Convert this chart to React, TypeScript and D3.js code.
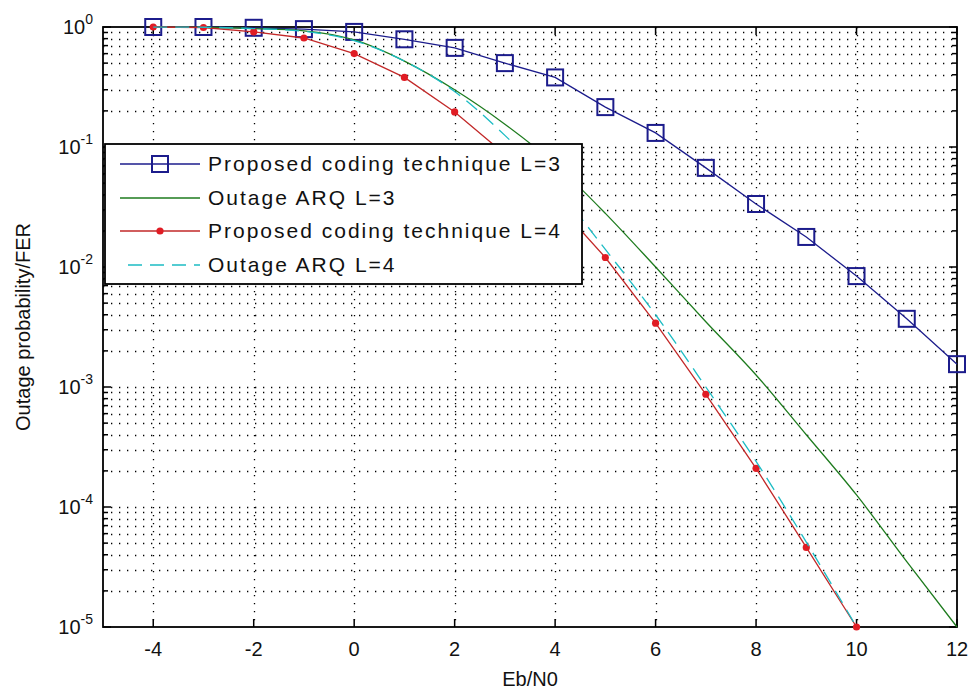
import React, { useEffect, useRef } from 'react'
import * as d3 from 'd3'

// Eb/N0 points (dB)
const snrL3 = [-4, -3, -2, -1, 0, 1, 2, 3, 4, 5, 6, 7, 8, 9, 10, 11, 12]
const snrL4 = [-4, -3, -2, -1, 0, 1, 2, 3, 4, 5, 6, 7, 8, 9, 10]

const proposedL3 = [1.0, 1.0, 0.985, 0.96, 0.91, 0.79, 0.67, 0.5, 0.38, 0.215, 0.131, 0.067, 0.0335, 0.0178, 0.0084, 0.0037, 0.00155]
const outageL3 = [0.999, 0.995, 0.97, 0.93, 0.78, 0.52, 0.30, 0.155, 0.072, 0.028, 0.0100, 0.0035, 0.00126, 0.0004, 0.000126, 0.000035, 0.00001]
const proposedL4 = [1.0, 0.99, 0.91, 0.81, 0.60, 0.38, 0.196, 0.087, 0.035, 0.012, 0.0034, 0.00087, 0.00021, 0.000046, 0.00001]
const outageL4 = [0.999, 0.995, 0.97, 0.92, 0.77, 0.52, 0.29, 0.125, 0.047, 0.014, 0.004, 0.001, 0.00024, 0.000051, 0.00001]

const xTicks = [-4, -2, 0, 2, 4, 6, 8, 10, 12]
const yDecades = [0, -1, -2, -3, -4, -5]

const legendLabels = [
  'Proposed coding technique L=3',
  'Outage ARQ L=3',
  'Proposed coding technique L=4',
  'Outage ARQ L=4',
]

export default function App() {
  const ref = useRef<SVGSVGElement | null>(null)

  useEffect(() => {
    const W = 973, H = 691
    const left = 103, right = 957, top = 27, bottom = 627
    const font = 'Liberation Sans, Arial, Helvetica, sans-serif'

    const svg = d3.select(ref.current)
    svg.selectAll('*').remove()
    svg.attr('width', W).attr('height', H)
    svg.append('rect').attr('width', W).attr('height', H).attr('fill', '#fff')

    const x = d3.scaleLinear().domain([-5, 12]).range([left, right])
    const y = d3.scaleLog().domain([1e-5, 1]).range([bottom, top])

    // all the log grid values (1..9 x 10^k)
    const yGrid: number[] = []
    for (let k = -5; k < 0; k++) {
      for (let m = 1; m <= 9; m++) yGrid.push(m * Math.pow(10, k))
    }
    yGrid.push(1)

    const grid = svg.append('g')
      .attr('stroke', '#000')
      .attr('stroke-width', 1.3)
      .attr('stroke-dasharray', '1.3,6.7')
      .attr('fill', 'none')
    grid.selectAll('.gy')
      .data(yGrid.filter(v => v > 1e-5 && v < 1))
      .enter().append('line')
      .attr('x1', left).attr('x2', right)
      .attr('y1', d => Math.round(y(d)) + 0.5)
      .attr('y2', d => Math.round(y(d)) + 0.5)
    grid.selectAll('.gx')
      .data(xTicks.filter(v => v > -5 && v < 12))
      .enter().append('line')
      .attr('y1', top).attr('y2', bottom)
      .attr('x1', d => Math.round(x(d)) + 0.5)
      .attr('x2', d => Math.round(x(d)) + 0.5)

    // ticks on all four sides, pointing in
    const ticks = svg.append('g').attr('stroke', '#000').attr('stroke-width', 1.5)
    xTicks.forEach(t => {
      const px = x(t)
      ticks.append('line').attr('x1', px).attr('x2', px).attr('y1', bottom).attr('y2', bottom - 8)
      ticks.append('line').attr('x1', px).attr('x2', px).attr('y1', top).attr('y2', top + 8)
    })
    yGrid.forEach(v => {
      const py = y(v)
      const len = Math.abs(Math.log10(v) - Math.round(Math.log10(v))) < 1e-9 ? 8 : 5
      ticks.append('line').attr('x1', left).attr('x2', left + len).attr('y1', py).attr('y2', py)
      ticks.append('line').attr('x1', right).attr('x2', right - len).attr('y1', py).attr('y2', py)
    })

    svg.append('rect')
      .attr('x', left).attr('y', top)
      .attr('width', right - left).attr('height', bottom - top)
      .attr('fill', 'none').attr('stroke', '#000').attr('stroke-width', 1.8)

    // tick labels
    svg.append('g').selectAll('text')
      .data(xTicks)
      .enter().append('text')
      .attr('x', d => x(d))
      .attr('y', 656)
      .attr('text-anchor', 'middle')
      .attr('font-family', font)
      .attr('font-size', 20)
      .attr('fill', '#111')
      .text(d => String(d))

    const yl = svg.append('g').selectAll('text')
      .data(yDecades)
      .enter().append('text')
      .attr('x', 93)
      .attr('y', d => y(Math.pow(10, d)) + 7)
      .attr('text-anchor', 'end')
      .attr('font-family', font)
      .attr('font-size', 20)
      .attr('fill', '#111')
    yl.append('tspan').text('10')
    yl.append('tspan')
      .attr('dy', -10)
      .attr('font-size', 14)
      .text(d => String(d))

    svg.append('text')
      .attr('x', (left + right) / 2)
      .attr('y', 686)
      .attr('text-anchor', 'middle')
      .attr('font-family', font)
      .attr('font-size', 20)
      .attr('fill', '#111')
      .text('Eb/N0')

    svg.append('text')
      .attr('transform', `translate(30,${(top + bottom) / 2}) rotate(-90)`)
      .attr('text-anchor', 'middle')
      .attr('font-family', font)
      .attr('font-size', 20)
      .attr('fill', '#111')
      .text('Outage probability/FER')

    // series
    const straight = d3.line<[number, number]>()
      .x(d => x(d[0])).y(d => y(d[1]))
    const smooth = d3.line<[number, number]>()
      .x(d => x(d[0])).y(d => y(d[1]))
      .curve(d3.curveMonotoneX)

    const blueData = snrL3.map((s, i) => [s, proposedL3[i]] as [number, number])
    const greenData = snrL3.map((s, i) => [s, outageL3[i]] as [number, number])
    const redData = snrL4.map((s, i) => [s, proposedL4[i]] as [number, number])
    const cyanData = snrL4.map((s, i) => [s, outageL4[i]] as [number, number])

    const blue = '#1c1c8c', green = '#1e7b1e', red = '#c22828', redDot = '#e01c24', cyan = '#1cbcc4'

    svg.append('path').datum(blueData).attr('d', straight)
      .attr('fill', 'none').attr('stroke', blue).attr('stroke-width', 1.3)
    svg.append('g').selectAll('rect')
      .data(blueData)
      .enter().append('rect')
      .attr('x', d => x(d[0]) - 8).attr('y', d => y(d[1]) - 8)
      .attr('width', 16).attr('height', 16)
      .attr('fill', 'none').attr('stroke', blue).attr('stroke-width', 2)

    svg.append('path').datum(greenData).attr('d', smooth)
      .attr('fill', 'none').attr('stroke', green).attr('stroke-width', 1.3)

    svg.append('path').datum(redData).attr('d', straight)
      .attr('fill', 'none').attr('stroke', red).attr('stroke-width', 1.3)
    svg.append('g').selectAll('circle')
      .data(redData)
      .enter().append('circle')
      .attr('cx', d => x(d[0])).attr('cy', d => y(d[1]))
      .attr('r', 3.6).attr('fill', redDot)

    svg.append('path').datum(cyanData).attr('d', smooth)
      .attr('fill', 'none').attr('stroke', cyan).attr('stroke-width', 1.3)
      .attr('stroke-dasharray', '14,8')

    // legend
    const lg = svg.append('g')
    lg.append('rect')
      .attr('x', 105).attr('y', 144).attr('width', 477).attr('height', 140)
      .attr('fill', '#fff').attr('stroke', '#000').attr('stroke-width', 1.8)
    const rowY = [164, 198, 231, 265]
    const styles = [
      { c: blue, dash: null, mark: 'square' },
      { c: green, dash: null, mark: null },
      { c: red, dash: null, mark: 'dot' },
      { c: cyan, dash: '14,8', mark: null },
    ]
    legendLabels.forEach((label, i) => {
      const ry = rowY[i]
      const st = styles[i]
      const ln = lg.append('line')
        .attr('x1', 120).attr('x2', 200).attr('y1', ry).attr('y2', ry)
        .attr('stroke', st.c).attr('stroke-width', 1.3)
      if (st.dash) ln.attr('stroke-dasharray', st.dash).attr('x1', 128)
      if (st.mark === 'square') {
        lg.append('rect').attr('x', 152).attr('y', ry - 8).attr('width', 16).attr('height', 16)
          .attr('fill', 'none').attr('stroke', st.c).attr('stroke-width', 2)
      } else if (st.mark === 'dot') {
        lg.append('circle').attr('cx', 160).attr('cy', ry).attr('r', 3.6).attr('fill', redDot)
      }
      lg.append('text')
        .attr('x', 208).attr('y', ry + 7)
        .attr('font-family', font)
        .attr('font-size', 21)
        .attr('letter-spacing', 2)
        .attr('fill', '#111')
        .text(label)
    })
  }, [])

  return (
    <div style={{ position: 'absolute', left: 0, top: 0 }}>
      <svg ref={ref} style={{ display: 'block' }} />
    </div>
  )
}
